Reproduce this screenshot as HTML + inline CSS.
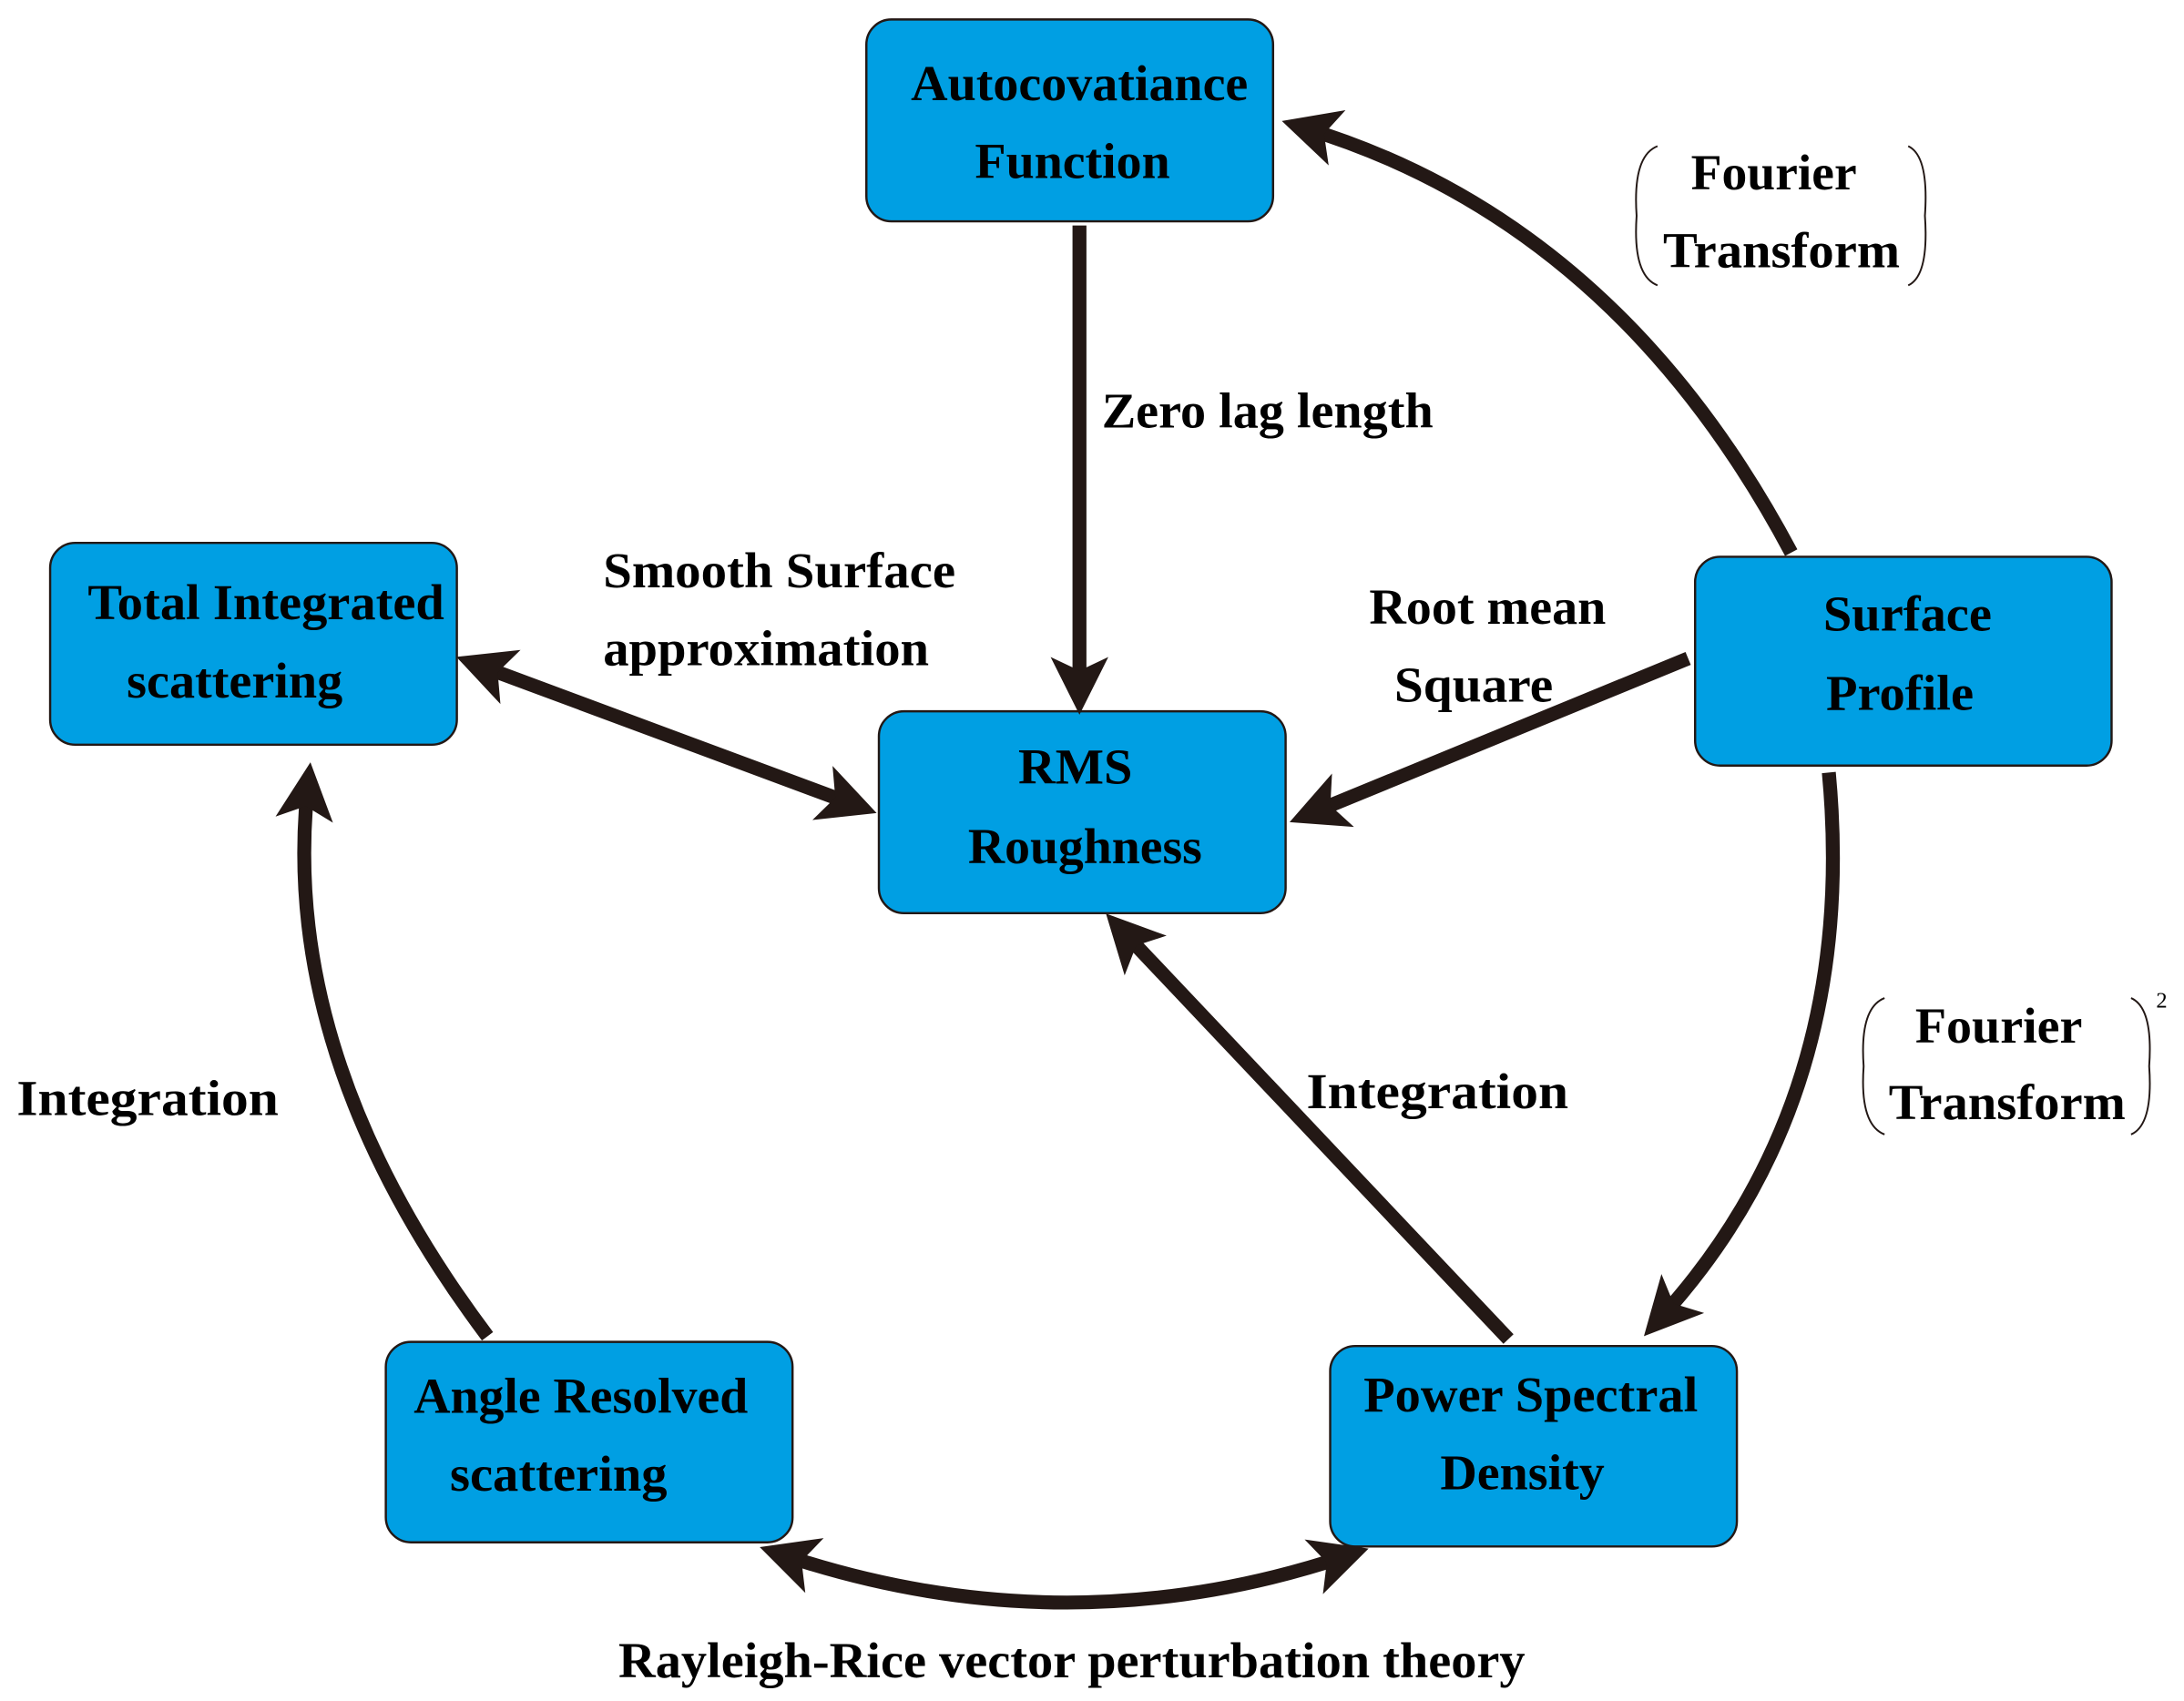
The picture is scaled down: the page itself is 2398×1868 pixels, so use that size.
<!DOCTYPE html>
<html><head><meta charset="utf-8"><style>html,body{margin:0;padding:0;background:#fff}svg{display:block}</style></head>
<body>
<svg width="2398" height="1868" viewBox="0 0 1568 1222" preserveAspectRatio="none" xmlns="http://www.w3.org/2000/svg">
<defs>
<marker id="ah" markerUnits="userSpaceOnUse" markerWidth="60" markerHeight="60" viewBox="-5 -25 55 50" refX="22" refY="0" orient="auto-start-reverse">
<path d="M0,-19 L38,0 L0,19 L9,0 z" fill="#231815"/>
</marker>
</defs>
<g fill="#009fe3" stroke="#231815" stroke-width="1.6">
<rect x="622" y="14" width="292" height="145" rx="18"/>
<rect x="36" y="390" width="292" height="145" rx="18"/>
<rect x="631" y="511" width="292" height="145" rx="18"/>
<rect x="1217" y="400" width="299" height="150" rx="18"/>
<rect x="277" y="964" width="292" height="144" rx="18"/>
<rect x="955" y="967" width="292" height="144" rx="18"/>
</g>
<g fill="none" stroke="#231815" stroke-width="10">
<path d="M775,162 L775,496" marker-end="url(#ah)"/>
<path d="M1286,397 Q1160,160 937,92" marker-end="url(#ah)"/>
<path d="M1212,473 L942,584" marker-end="url(#ah)"/>
<path d="M344,478 L613,578" marker-start="url(#ah)" marker-end="url(#ah)"/>
<path d="M1083,962 L806,669" marker-end="url(#ah)"/>
<path d="M1313,555 Q1335,790 1192,947" marker-end="url(#ah)"/>
<path d="M350,960 Q200,760 221,565" marker-end="url(#ah)"/>
<path d="M562,1117 Q765,1185 966,1118" marker-start="url(#ah)" marker-end="url(#ah)"/>
</g>
<g fill="none" stroke="#231815" stroke-width="1.3">
<path d="M1190,105 Q1172,112 1175,155 Q1172,198 1190,205"/>
<path d="M1370,105 Q1385,112 1382,155 Q1385,198 1370,205"/>
<path d="M1353,717 Q1335,724 1338,766 Q1335,808 1353,815"/>
<path d="M1530,717 Q1546,724 1543,766 Q1546,808 1530,815"/>
</g>
<g font-family="'Liberation Serif',serif" font-weight="bold" font-size="36" fill="#000" lengthAdjust="spacingAndGlyphs">
<text x="654" y="72" textLength="242" lengthAdjust="spacingAndGlyphs">Autocovatiance</text>
<text x="700" y="128" textLength="140" lengthAdjust="spacingAndGlyphs">Function</text>
<text x="63" y="445" textLength="256" lengthAdjust="spacingAndGlyphs">Total Integrated</text>
<text x="91" y="501" textLength="155" lengthAdjust="spacingAndGlyphs">scattering</text>
<text x="731" y="563" textLength="82" lengthAdjust="spacingAndGlyphs">RMS</text>
<text x="695" y="620" textLength="168" lengthAdjust="spacingAndGlyphs">Roughness</text>
<text x="1309" y="453" textLength="121" lengthAdjust="spacingAndGlyphs">Surface</text>
<text x="1311" y="510" textLength="106" lengthAdjust="spacingAndGlyphs">Profile</text>
<text x="297" y="1015" textLength="240" lengthAdjust="spacingAndGlyphs">Angle Resolved</text>
<text x="323" y="1071" textLength="156" lengthAdjust="spacingAndGlyphs">scattering</text>
<text x="979" y="1014" textLength="240" lengthAdjust="spacingAndGlyphs">Power Spectral</text>
<text x="1034" y="1070" textLength="118" lengthAdjust="spacingAndGlyphs">Density</text>
<text x="791" y="307" textLength="238" lengthAdjust="spacingAndGlyphs">Zero lag length</text>
<text x="433" y="422" textLength="253" lengthAdjust="spacingAndGlyphs">Smooth Surface</text>
<text x="433" y="478" textLength="234" lengthAdjust="spacingAndGlyphs">approximation</text>
<text x="983" y="448" textLength="170" lengthAdjust="spacingAndGlyphs">Root mean</text>
<text x="1001" y="504" textLength="114" lengthAdjust="spacingAndGlyphs">Square</text>
<text x="12" y="801" textLength="188" lengthAdjust="spacingAndGlyphs">Integration</text>
<text x="938" y="796" textLength="188" lengthAdjust="spacingAndGlyphs">Integration</text>
<text x="444" y="1205" textLength="651" lengthAdjust="spacingAndGlyphs">Rayleigh-Rice vector perturbation theory</text>
<text x="1214" y="136" textLength="119" lengthAdjust="spacingAndGlyphs">Fourier</text>
<text x="1194" y="192" textLength="170" lengthAdjust="spacingAndGlyphs">Transform</text>
<text x="1375" y="749" textLength="120" lengthAdjust="spacingAndGlyphs">Fourier</text>
<text x="1356" y="804" textLength="170" lengthAdjust="spacingAndGlyphs">Transform</text>
<text x="1552" y="724" font-size="16" font-weight="normal" text-anchor="middle">2</text>
</g>
</svg>
</body></html>
